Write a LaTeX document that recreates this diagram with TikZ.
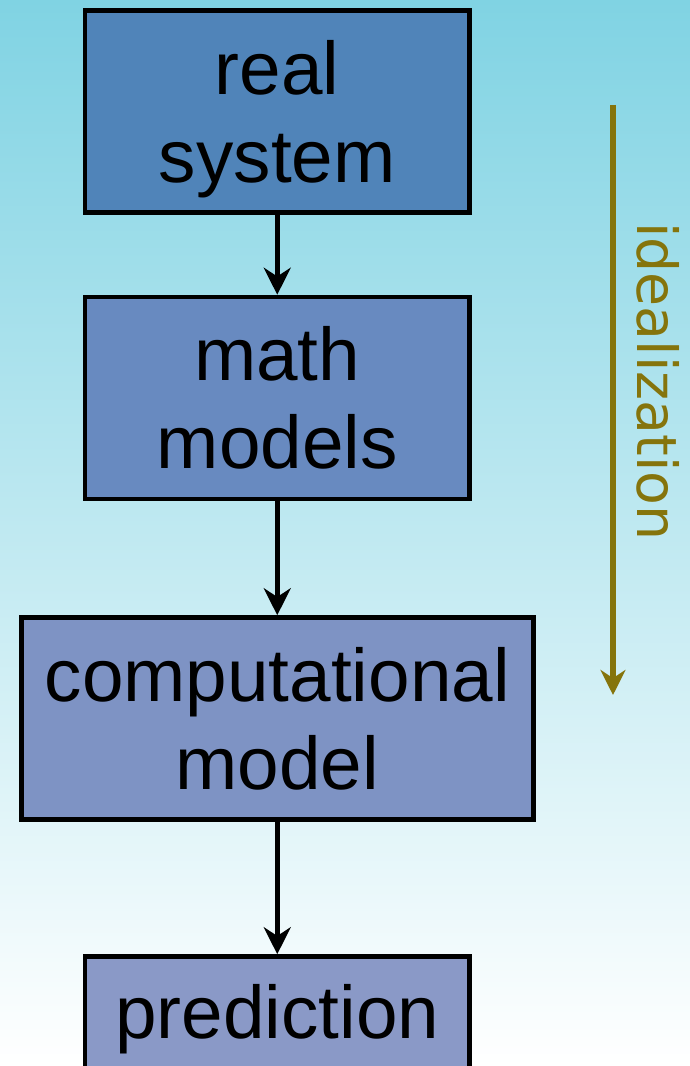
\documentclass[tikz,border=0pt]{standalone}
\usepackage{fontspec}
\setmainfont{Liberation Sans}
\newfontfamily\idfont{DejaVu Sans}
\usetikzlibrary{arrows.meta}
\definecolor{skytop}{RGB}{128,211,227}
\definecolor{realfill}{RGB}{80,132,185}
\definecolor{mathfill}{RGB}{104,138,192}
\definecolor{compfill}{RGB}{126,147,196}
\definecolor{predfill}{RGB}{138,153,199}
\definecolor{idolive}{RGB}{133,116,12}

\begin{document}
\begin{tikzpicture}[>=Stealth,
  stage/.style={draw,line width=2.6pt,align=center,inner sep=0pt,
    minimum width=7.69cm,minimum height=4.04cm,
    font=\fontsize{42.5}{50}\selectfont},
  flow/.style={-{Stealth[length=5.4mm,width=5.4mm]},line width=2.6pt}]
  % Background
  \useasboundingbox (0,0) rectangle (13.8,21.32);
  \clip (0,0) rectangle (13.8,21.32);
  \shade[top color=skytop,bottom color=white] (0,0) rectangle (13.8,21.32);

  % Real system
  \node[stage,fill=realfill] (real) at (5.545,19.095)
    {real\\\raisebox{0pt}[\height][0pt]{system}};

  % Math models
  \node[stage,fill=mathfill] (math) at (5.545,13.36) {math\\models};

  % Computational model
  \node[stage,fill=compfill,minimum width=10.24cm] (comp) at (5.545,6.95)
    {computational\\model};

  % Prediction
  \node[stage,fill=predfill,minimum height=2.5cm] (pred) at (5.545,0.94)
    {prediction};

  % Arrows
  \draw[flow] (real) -- (math);
  \draw[flow] (math) -- (comp);
  \draw[flow] (comp) -- (pred);

  % Idealization
  \coordinate (idtop) at (12.26,19.22);
  \coordinate (idend) at (12.26,7.42);
  \draw[idolive,line width=3.1pt,-{Stealth[length=5mm,width=5mm]}] (idtop) -- (idend);
  \node[idolive,rotate=-90,anchor=base,font=\idfont\fontsize{31.5}{38}\selectfont]
    (ideal) at (12.74,13.69) {idealization};
\end{tikzpicture}
\end{document}
